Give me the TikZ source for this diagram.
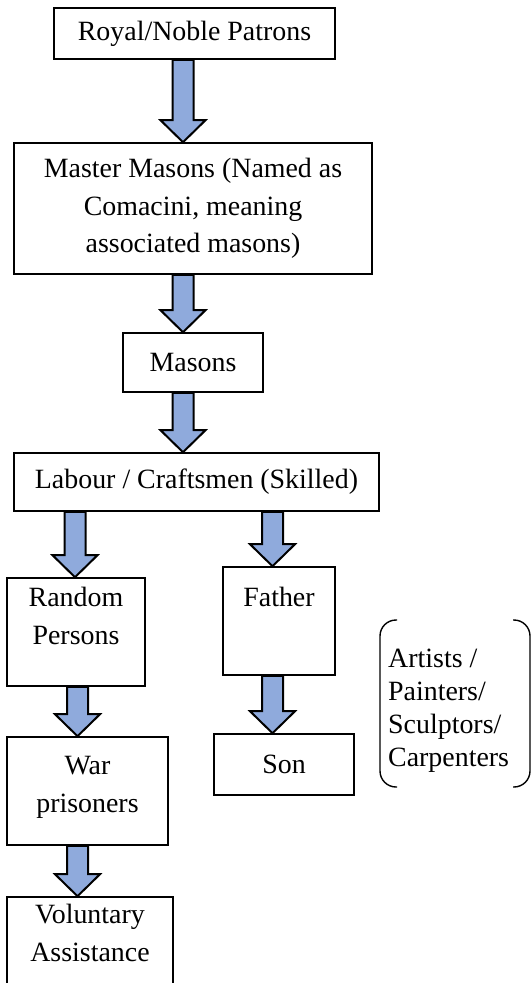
\documentclass[tikz,border=0pt]{standalone}
\usepackage{fontspec}
\setmainfont{Liberation Serif}
\usetikzlibrary{calc}

\definecolor{arrowblue}{RGB}{143,170,220}

\tikzset{
  box/.style={draw, line width=1.6pt, inner sep=0pt, align=center,
    font=\fontsize{27.9}{37.5}\selectfont},
  lbl/.style={anchor=north, inner sep=0pt, align=center,
    font=\fontsize{27.9}{37.5}\selectfont},
  blockarrow/.style={draw, fill=arrowblue, line width=2pt, line join=miter},
  bracket/.style={draw, line width=1.4pt, rounded corners=16pt}
}

% block arrow pointing down: x position, upper node, lower node
\newcommand{\blockdown}[3]{%
  \draw[blockarrow] let \p1=(#2.south), \p2=(#3.north) in
    (#1pt-10.5pt,\y1) -- (#1pt-10.5pt,\y2+22pt) -- (#1pt-22.5pt,\y2+22pt)
    -- (#1pt,\y2) -- (#1pt+22.5pt,\y2+22pt) -- (#1pt+10.5pt,\y2+22pt)
    -- (#1pt+10.5pt,\y1) -- cycle;}

\begin{document}
\begin{tikzpicture}[x=1pt,y=-1pt]
   \useasboundingbox (0,0) rectangle (531,983);

   % chain of boxes
   \node[box, minimum width=281pt, minimum height=51pt] (patrons) at (194.5,33.5) {Royal/Noble Patrons};
   \node[box, minimum width=358pt, minimum height=131pt] (master) at (193,208.5)
      {Master Masons (Named as\\Comacini, meaning\\associated masons)};
   \node[box, minimum width=140pt, minimum height=59pt] (masons) at (193,362.5) {Masons};
   \node[box, minimum width=365pt, minimum height=58pt] (labour) at (196.5,482) {Labour / Craftsmen (Skilled)};

   % left branch
   \node[box, minimum width=138pt, minimum height=108pt,
      label={[lbl,label distance=-10pt]north:{Random\\Persons}}] (random) at (76,632) {};
   \node[box, minimum width=161pt, minimum height=108pt,
      label={[lbl,label distance=-20pt]north:{War\\prisoners}}] (war) at (87.5,791) {};
   \node[box, minimum width=166pt, minimum height=92pt,
      label={[lbl,label distance=-8pt]north:{Voluntary\\Assistance}}] (voluntary) at (90,943) {};

   % right branch
   \node[box, minimum width=112pt, minimum height=108pt,
      label={[lbl,label distance=-21pt]north:{Father}}] (father) at (279,621) {};
   \node[box, minimum width=140pt, minimum height=61pt] (son) at (284,764.5) {Son};

   \node[lbl, anchor=west, align=left, font=\fontsize{27.9}{33}\selectfont] (artists) at (388,711)
      {Artists /\\Painters/\\Sculptors/\\Carpenters};
   \draw[bracket] (397,620) -- (380,620) -- (380,787) -- (397,787);
   \draw[bracket] (513,620) -- (530,620) -- (530,787) -- (513,787);

   % arrows
   \blockdown{183}{patrons}{master}
   \blockdown{183}{master}{masons}
   \blockdown{183}{masons}{labour}
   \blockdown{75}{labour}{random}
   \blockdown{272.5}{labour}{father}
   \blockdown{77.5}{random}{war}
   \blockdown{77.5}{war}{voluntary}
   \blockdown{272.5}{father}{son}
\end{tikzpicture}
\end{document}
